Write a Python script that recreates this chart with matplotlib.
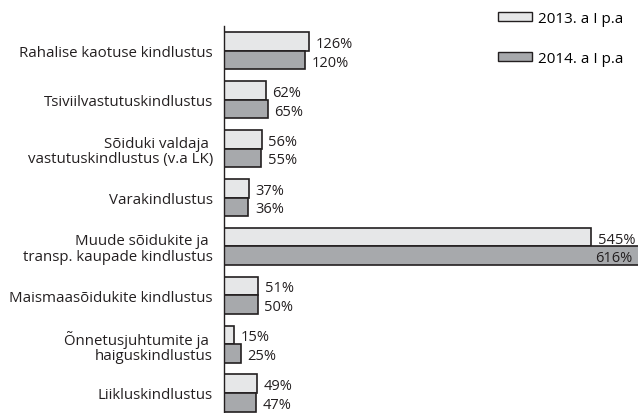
import numpy as np
import matplotlib.pyplot as plt
from matplotlib.patches import Patch

plt.rcParams['font.family'] = ['Open Sans', 'DejaVu Sans']

### Andmed
kategooriad = ["Rahalise kaotuse kindlustus",
               "Tsiviilvastutuskindlustus",
               "Sõiduki valdaja \nvastutuskindlustus (v.a LK)",
               "Varakindlustus",
               "Muude sõidukite ja \ntransp. kaupade kindlustus",
               "Maismaasõidukite kindlustus",
               "Õnnetusjuhtumite ja \nhaiguskindlustus",
               "Liikluskindlustus"]
v2013 = [126, 62, 56, 37, 545, 51, 15, 49]
v2014 = [120, 65, 55, 36, 616, 50, 25, 47]
seeria_nimed = ["2013. a I p.a", "2014. a I p.a"]

hele = "#e6e7e8"
tume = "#a7a9ac"
serv = "#231f20"

fig = plt.figure(figsize=(6.38, 4.14), dpi=100)
ax = fig.add_axes([224 / 638, 0.0, 414 / 638, 387 / 414])

y = np.arange(len(kategooriad))
h = 0.38
ax.barh(y - h / 2, v2013, height=h, color=hele, edgecolor=serv, linewidth=1.2)
ax.barh(y + h / 2, v2014, height=h, color=tume, edgecolor=serv, linewidth=1.2)

xmax = 615
ax.set_xlim(0, xmax)
ax.set_ylim(7.41, -0.51)

for i in range(len(kategooriad)):
    for v, dy in ((v2013[i], -h / 2), (v2014[i], h / 2)):
        if v > xmax:
            ax.text(xmax - 8, i + dy + 0.04, f"{v}%", ha='right', va='center',
                    fontsize=10.5, color=serv)
        else:
            ax.text(v + 10, i + dy + 0.04, f"{v}%", ha='left', va='center',
                    fontsize=10.5, color=serv)

ax.set_yticks(y)
ax.set_yticklabels(kategooriad, fontsize=10.8, color=serv, linespacing=1.05)
ax.tick_params(axis='y', length=0, pad=8)
ax.set_xticks([])
for s in ('top', 'right', 'bottom'):
    ax.spines[s].set_visible(False)
ax.spines['left'].set_color(serv)
ax.spines['left'].set_linewidth(1.0)

handles = [Patch(facecolor=hele, edgecolor=serv, linewidth=1.0),
           Patch(facecolor=tume, edgecolor=serv, linewidth=1.0)]
fig.legend(handles, seeria_nimed, loc='upper left', bbox_to_anchor=(492 / 638, 1.0 - 6 / 414),
           frameon=False, fontsize=11, handlelength=2.2, handleheight=0.55,
           labelspacing=1.6, handletextpad=0.4, borderaxespad=0)

fig.savefig("out.png", dpi=100)
